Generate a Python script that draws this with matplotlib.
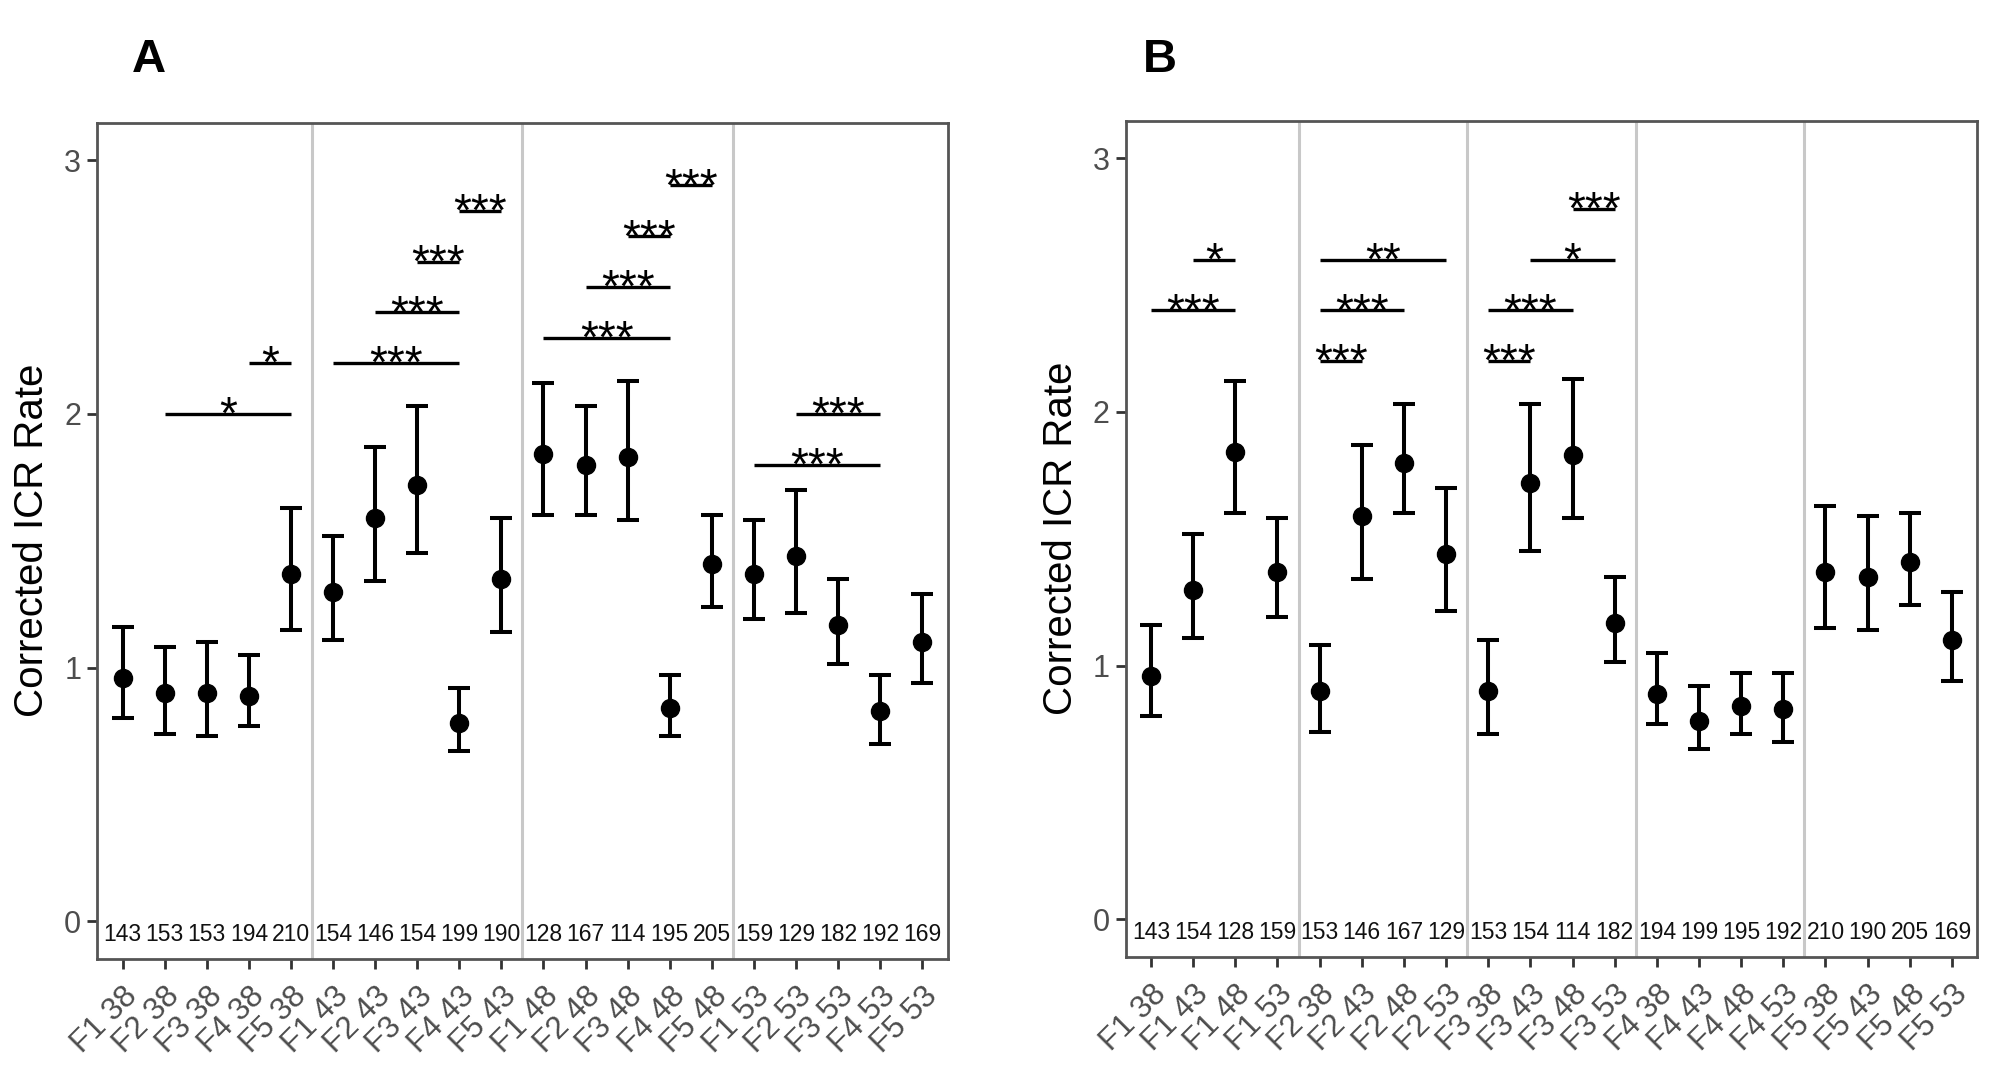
import numpy as np
import matplotlib
matplotlib.use("Agg")
import matplotlib.pyplot as plt
from matplotlib.transforms import ScaledTranslation

plt.rcParams['font.family'] = ['Liberation Sans', 'DejaVu Sans']

# ---------------- data (panel A order: grouped by temperature) ----------------
labels_A = ['F1 38', 'F2 38', 'F3 38', 'F4 38', 'F5 38',
            'F1 43', 'F2 43', 'F3 43', 'F4 43', 'F5 43',
            'F1 48', 'F2 48', 'F3 48', 'F4 48', 'F5 48',
            'F1 53', 'F2 53', 'F3 53', 'F4 53', 'F5 53']
means_A = [0.96, 0.90, 0.90, 0.89, 1.37,
           1.30, 1.59, 1.72, 0.78, 1.35,
           1.84, 1.80, 1.83, 0.84, 1.41,
           1.37, 1.44, 1.17, 0.83, 1.10]
lower_A = [0.80, 0.74, 0.73, 0.77, 1.15,
           1.11, 1.34, 1.45, 0.67, 1.14,
           1.60, 1.60, 1.58, 0.73, 1.24,
           1.19, 1.215, 1.015, 0.70, 0.94]
upper_A = [1.16, 1.08, 1.10, 1.05, 1.63,
           1.52, 1.87, 2.03, 0.92, 1.59,
           2.12, 2.03, 2.13, 0.97, 1.60,
           1.58, 1.70, 1.35, 0.97, 1.29]
n_A = [143, 153, 153, 194, 210,
       154, 146, 154, 199, 190,
       128, 167, 114, 195, 205,
       159, 129, 182, 192, 169]

# panel B order: grouped by feed
labels_B = ['F1 38', 'F1 43', 'F1 48', 'F1 53',
            'F2 38', 'F2 43', 'F2 48', 'F2 53',
            'F3 38', 'F3 43', 'F3 48', 'F3 53',
            'F4 38', 'F4 43', 'F4 48', 'F4 53',
            'F5 38', 'F5 43', 'F5 48', 'F5 53']

# significance bars: (from, to, height, label)
sig_A = [('F2 38', 'F5 38', 2.0, '*'),
         ('F4 38', 'F5 38', 2.2, '*'),
         ('F1 43', 'F4 43', 2.2, '***'),
         ('F2 43', 'F4 43', 2.4, '***'),
         ('F3 43', 'F4 43', 2.6, '***'),
         ('F4 43', 'F5 43', 2.8, '***'),
         ('F1 48', 'F4 48', 2.3, '***'),
         ('F2 48', 'F4 48', 2.5, '***'),
         ('F3 48', 'F4 48', 2.7, '***'),
         ('F4 48', 'F5 48', 2.9, '***'),
         ('F1 53', 'F4 53', 1.8, '***'),
         ('F2 53', 'F4 53', 2.0, '***')]
sig_B = [('F1 38', 'F1 48', 2.4, '***'),
         ('F1 43', 'F1 48', 2.6, '*'),
         ('F2 38', 'F2 43', 2.2, '***'),
         ('F2 38', 'F2 48', 2.4, '***'),
         ('F2 38', 'F2 53', 2.6, '**'),
         ('F3 38', 'F3 43', 2.2, '***'),
         ('F3 38', 'F3 48', 2.4, '***'),
         ('F3 43', 'F3 53', 2.6, '*'),
         ('F3 48', 'F3 53', 2.8, '***')]

y_label = 'Corrected ICR Rate'
y_ticks = [0, 1, 2, 3]

# ---------------- figure ----------------
W, H, DPI = 2008, 1075, 100
fig = plt.figure(figsize=(W / DPI, H / DPI), dpi=DPI)


def reorder(vals, src_labels, dst_labels):
    lut = dict(zip(src_labels, vals))
    return [lut[l] for l in dst_labels]


def panel(rect, labels, means, lo, hi, ns, group_idx, sigs):
    ax = fig.add_axes(rect)
    x = np.arange(1, len(labels) + 1)
    means = np.asarray(means); lo = np.asarray(lo); hi = np.asarray(hi)
    groups = [l.split()[group_idx] for l in labels]
    for i in range(1, len(groups)):
        if groups[i] != groups[i - 1]:
            ax.axvline(i + 0.5, color='#c8c8c8', lw=2.2, zorder=0)
    ax.errorbar(x, means, yerr=[means - lo, hi - means], fmt='o', color='black',
                ms=13, elinewidth=2.9, capsize=7.6, capthick=2.9, zorder=3)
    for xi, n in zip(x, ns):
        ax.text(xi, -0.05, str(n), ha='center', va='center', fontsize=16.5, color='#111111')
    off = ax.transData + ScaledTranslation(0, -15 / DPI, fig.dpi_scale_trans)
    for a, b, y, s in sigs:
        i, j = labels.index(a) + 1, labels.index(b) + 1
        ax.plot([i, j], [y, y], color='black', lw=2.4, solid_capstyle='butt', zorder=3)
        ax.text((i + j) / 2, y, s, ha='center', va='baseline', fontsize=33,
                transform=off, zorder=4)
    ax.set_xlim(0.4, len(labels) + 0.6)
    ax.set_ylim(-0.148, 3.148)
    ax.set_yticks(y_ticks)
    ax.set_yticklabels([str(t) for t in y_ticks])
    ax.set_xticks(x)
    ax.set_xticklabels(labels, rotation=45, ha='right', va='top', rotation_mode='anchor')
    xoff = ScaledTranslation(5 / DPI, 0, fig.dpi_scale_trans)
    for lab in ax.get_xticklabels():
        lab.set_transform(lab.get_transform() + xoff)
    ax.tick_params(axis='both', length=7.2, width=2.0, color='#333333', labelcolor='#4d4d4d')
    ax.tick_params(axis='y', labelsize=22, pad=4.3)
    ax.tick_params(axis='x', labelsize=22.5, pad=8.5)
    for sp in ax.spines.values():
        sp.set_color('#555555')
        sp.set_linewidth(2.0)
    ax.set_ylabel(y_label, fontsize=29, color='black')
    ax.yaxis.set_label_coords(-0.054, 0.5)
    return ax


axA = panel([97.3 / W, 1 - 959 / H, 850.3 / W, 836.5 / H], labels_A, means_A,
            lower_A, upper_A, n_A, 1, sig_A)
axB = panel([1125.7 / W, 1 - 957 / H, 851.5 / W, 836.5 / H], labels_B,
            reorder(means_A, labels_A, labels_B), reorder(lower_A, labels_A, labels_B),
            reorder(upper_A, labels_A, labels_B), reorder(n_A, labels_A, labels_B), 0, sig_B)

fig.text(149 / W, 1 - 60 / H, 'A', fontsize=34, fontweight='bold', ha='center', va='center')
fig.text(1160 / W, 1 - 60 / H, 'B', fontsize=34, fontweight='bold', ha='center', va='center')

fig.savefig('out.png', dpi=DPI)
